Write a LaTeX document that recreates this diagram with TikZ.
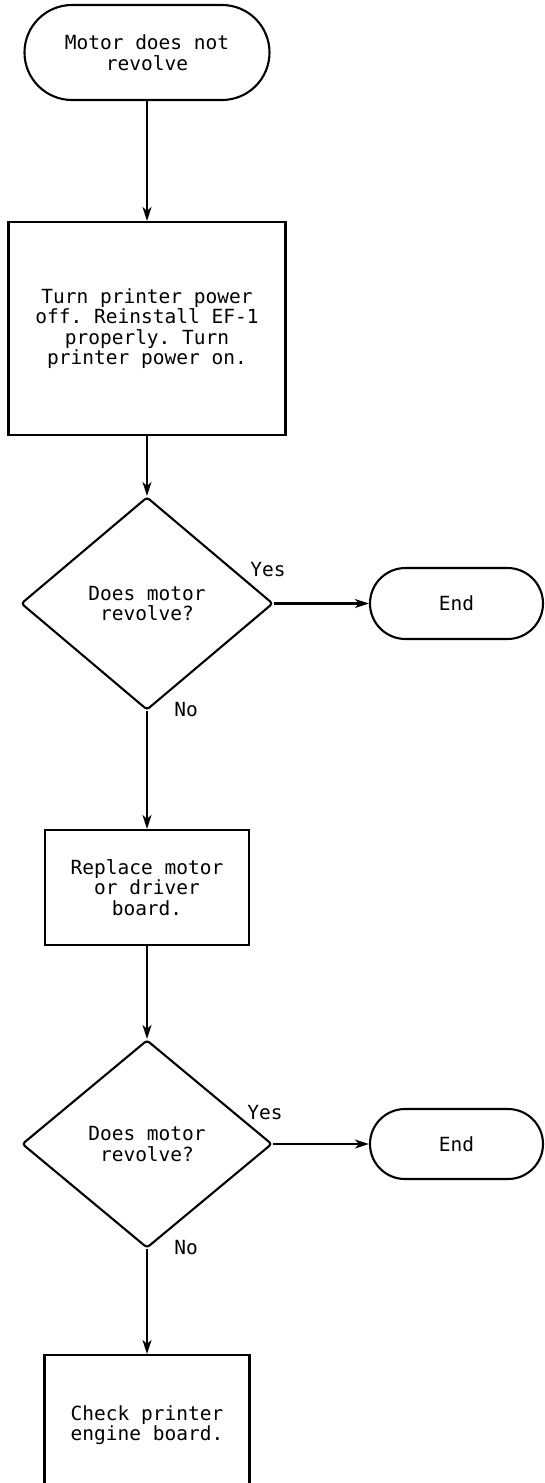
\documentclass[tikz,border=0pt]{standalone}
\usepackage{fontspec}
\setmonofont{DejaVu Sans Mono}
\usetikzlibrary{shapes.geometric,shapes.misc,arrows.meta}

\begin{document}
\begin{tikzpicture}[x=1pt, y=-1pt, >={Stealth[length=14pt,width=9pt,inset=4pt]},
  font=\ttfamily\fontsize{19.5}{20.5}\selectfont, line width=2.1pt,
  termbox/.style={draw, rounded rectangle, align=center, inner sep=0pt},
  actbox/.style={draw, rectangle, align=center, inner sep=0pt},
  askbox/.style={draw, diamond, align=center, inner sep=0pt, rounded corners=3pt},
  flow/.style={->}]
  \useasboundingbox (0,0) rectangle (545,1483);
  % ---- main column
  \node[termbox, minimum width=245pt, minimum height=95pt] (start) at (147,52.5) {Motor does not\\revolve};
  \node[actbox, minimum width=277pt, minimum height=213pt] (act1) at (147,328.5)
    {Turn printer power\\off. Reinstall EF-1\\properly. Turn\\printer power on.};
  \node[askbox, minimum width=252pt, minimum height=213pt] (ask1) at (147,603.5) {Does motor\\revolve?};
  \node[actbox, minimum width=204pt, minimum height=115pt] (act2) at (147,887.5) {Replace motor\\or driver\\board.};
  \node[askbox, minimum width=250pt, minimum height=208pt] (ask2) at (147,1144) {Does motor\\revolve?};
  \node[actbox, minimum width=205pt, minimum height=140pt] (act3) at (147,1425) {Check printer\\engine board.};
  % ---- side exits
  \node[termbox, minimum width=173pt, minimum height=71pt] (end1) at (456.5,603.5) {End};
  \node[termbox, minimum width=173pt, minimum height=70pt] (end2) at (456.5,1144) {End};
  % ---- answers
  \node (yes1) at ([shift={(-6,-34)}]ask1.east) {Yes};
  \node (no1) at ([shift={(39,-2)}]ask1.south) {No};
  \node (yes2) at ([shift={(-8,-31)}]ask2.east) {Yes};
  \node (no2) at ([shift={(39,-2)}]ask2.south) {No};
  % ---- connectors
  \draw[flow] (start.south) -- (act1.north);
  \draw[flow] (act1.south) -- (ask1.north);
  \draw[flow] (ask1.east) -- (end1.west);
  \draw[flow] (ask1.south) -- (act2.north);
  \draw[flow] (act2.south) -- (ask2.north);
  \draw[flow] (ask2.east) -- (end2.west);
  \draw[flow] (ask2.south) -- (act3.north);
\end{tikzpicture}
\end{document}
